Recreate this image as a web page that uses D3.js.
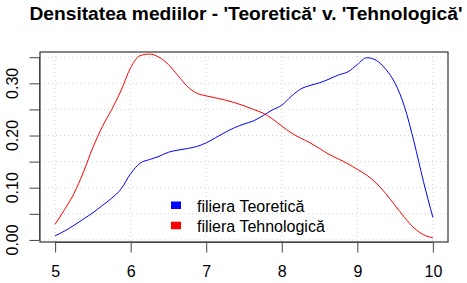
<!DOCTYPE html>
<html>
<head>
<meta charset="utf-8">
<script src="https://cdn.jsdelivr.net/npm/d3@7"></script>
<style>
  body { margin: 0; background: #fff; }
  svg { font-family: "Liberation Sans", Arial, sans-serif; }
</style>
</head>
<body>
<div id="chart"></div>
<script>
// medii (x) and estimated densities
var medii = [5.000, 5.125, 5.250, 5.375, 5.500, 5.625, 5.750, 5.875, 6.000, 6.125,
             6.250, 6.375, 6.500, 6.625, 6.750, 6.875, 7.000, 7.125, 7.250, 7.375,
             7.500, 7.625, 7.750, 7.875, 8.000, 8.125, 8.250, 8.375, 8.500, 8.625,
             8.750, 8.875, 9.000, 9.125, 9.250, 9.375, 9.500, 9.625, 9.750, 9.875, 10.000];
var densTeoretica = [0.008, 0.017, 0.028, 0.040, 0.052, 0.066, 0.080, 0.098, 0.127, 0.147,
                     0.154, 0.160, 0.168, 0.172, 0.175, 0.179, 0.186, 0.196, 0.206, 0.215,
                     0.222, 0.228, 0.238, 0.249, 0.258, 0.275, 0.289, 0.296, 0.301, 0.308,
                     0.316, 0.322, 0.336, 0.349, 0.344, 0.327, 0.300, 0.255, 0.188, 0.112, 0.043];
var densTehnologica = [0.030, 0.058, 0.089, 0.130, 0.177, 0.217, 0.250, 0.287, 0.330, 0.353,
                       0.356, 0.350, 0.336, 0.315, 0.294, 0.281, 0.276, 0.272, 0.268, 0.263,
                       0.257, 0.250, 0.243, 0.232, 0.218, 0.205, 0.195, 0.186, 0.175, 0.164,
                       0.155, 0.146, 0.135, 0.124, 0.109, 0.089, 0.066, 0.043, 0.023, 0.010, 0.004];
var xTicks = [5, 6, 7, 8, 9, 10];
var yTicks = [0, 0.05, 0.10, 0.15, 0.20, 0.25, 0.30, 0.35];
var yLabels = [0, 0.10, 0.20, 0.30];
var seriesNames = ["filiera Teoretică", "filiera Tehnologică"];
var seriesColors = ["#0000ff", "#ff0000"];

var W = 467, H = 283;
var plot = {left: 40, right: 448, top: 52, bottom: 242};
var fs = 16;

var svg = d3.select("#chart").append("svg")
    .attr("width", W)
    .attr("height", H);

var x = d3.scaleLinear().domain([4.8, 10.2]).range([plot.left, plot.right]);
var y = d3.scaleLinear().domain([-0.004, 0.360]).range([plot.bottom, plot.top]);

// grid
svg.append("g").selectAll("line.v")
  .data(xTicks).enter().append("line")
    .attr("x1", d => x(d)).attr("x2", d => x(d))
    .attr("y1", plot.top).attr("y2", plot.bottom)
    .attr("stroke", "#d3d3d3").attr("stroke-dasharray", "1,3");
svg.append("g").selectAll("line.h")
  .data(yTicks).enter().append("line")
    .attr("y1", d => y(d)).attr("y2", d => y(d))
    .attr("x1", plot.left).attr("x2", plot.right)
    .attr("stroke", "#d3d3d3").attr("stroke-dasharray", "1,3");

// lines
var line = d3.line()
    .x(function(d) { return x(d[0]); })
    .y(function(d) { return y(d[1]); })
    .curve(d3.curveMonotoneX);

[densTeoretica, densTehnologica].forEach(function(vals, i) {
  svg.append("path")
    .datum(medii.map(function(m, j) { return [m, vals[j]]; }))
    .attr("fill", "none")
    .attr("stroke", seriesColors[i])
    .attr("stroke-width", 1)
    .attr("d", line);
});

// box
svg.append("rect")
    .attr("x", plot.left).attr("y", plot.top)
    .attr("width", plot.right - plot.left)
    .attr("height", plot.bottom - plot.top)
    .attr("fill", "none").attr("stroke", "#333").attr("stroke-width", 1.2);

// x axis
var xAxis = svg.append("g")
    .attr("transform", "translate(0," + (plot.bottom + 0.5) + ")")
    .call(d3.axisBottom(x).tickValues(xTicks).tickSize(10).tickPadding(13)
          .tickFormat(d3.format("d")));
xAxis.selectAll("text").attr("font-size", fs + "px").attr("fill", "#000")
    .style("font-family", "Liberation Sans, Arial, sans-serif");

// y axis
var yAxis = svg.append("g")
    .attr("transform", "translate(" + (plot.left - 0.5) + ",0)")
    .call(d3.axisLeft(y).tickValues(yTicks).tickSize(10).tickFormat(""));
yAxis.selectAll(".domain, .tick line").attr("stroke", "#444");
xAxis.selectAll(".domain, .tick line").attr("stroke", "#444");
xAxis.select(".domain").attr("d", "M" + x(5) + ",0H" + x(10));
yAxis.select(".domain").attr("d", "M0," + y(0) + "V" + y(0.35));

svg.append("g").selectAll("text")
  .data(yLabels).enter().append("text")
    .attr("transform", d => "translate(17.5," + y(d) + ") rotate(-90)")
    .attr("text-anchor", "middle")
    .attr("font-size", fs + "px")
    .text(d => d3.format(".2f")(d));

// title
svg.append("text")
    .attr("x", 246)
    .attr("y", 19.5)
    .attr("text-anchor", "middle")
    .attr("font-size", "19.2px")
    .attr("font-weight", "bold")
    .text("Densitatea mediilor - 'Teoretică' v. 'Tehnologică'");

// legend
var leg = svg.append("g");
seriesNames.forEach(function(name, i) {
  leg.append("rect")
      .attr("x", 171).attr("y", 201.5 + i * 20.2)
      .attr("width", 10).attr("height", 7.5)
      .attr("fill", seriesColors[i]);
  leg.append("text")
      .attr("x", 197).attr("y", 211.5 + i * 20.2)
      .attr("font-size", fs + "px")
      .text(name);
});
</script>
</body>
</html>
